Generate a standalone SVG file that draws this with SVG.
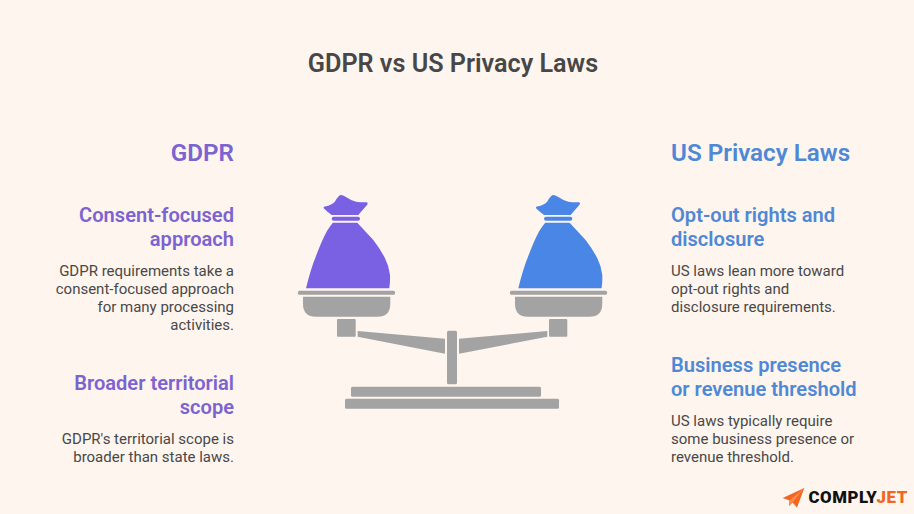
<svg xmlns="http://www.w3.org/2000/svg" width="914" height="514" viewBox="0 0 914 514">
<style>
text{font-family:Roboto,"Liberation Sans",sans-serif}
.t{font-size:25.200px;font-weight:600;fill:#474747;text-anchor:middle}
.hp{font-size:24.200px;font-weight:600;fill:#7b63d0}
.hb{font-size:24.200px;font-weight:600;fill:#4f88d4}
.sp{font-size:20.100px;font-weight:600;fill:#7b63d0}
.sb{font-size:20.100px;font-weight:600;fill:#4f88d4}
.d{font-size:15px;fill:#484848}
.r{text-anchor:end}
.g{fill:#a3a3a3}
</style>
<defs>
<g id="pan">
<rect class="g" x="298" y="290.700" width="97" height="4" rx="1.500"/>
<path class="g" d="M303 296.700H390.300V303.700Q390.300 316.700 377.300 316.700H316Q303 316.700 303 303.700Z"/>
</g>
<path id="knot" d="M340.500 195Q343 195 346 197Q351 200.500 356 201.700Q361 202.500 366.500 202.300Q368.500 202.800 367 205L358.300 215H331.700Q327 211.500 324 208.500Q322.800 207 325 206.500Q332 205 335 201.500Q338 196 340.500 195Z"/>
<path id="bag" d="M332.900 222.700H357.300Q366 232 373.300 240Q381 250 385 258.300Q389 266 390 275Q390.300 282 389.300 288.300H306Q311 268 316 256Q322 240 327 231Q330 226 332.900 222.700Z"/>
<rect id="band" x="331.700" y="216.700" width="28.300" height="4" rx="2"/>
</defs>
<rect width="914" height="514" fill="#fef5ee"/>
<text class="t" x="453" y="72">GDPR vs US Privacy Laws</text>
<g id="scale">
<use href="#pan"/>
<use href="#pan" x="212"/>
<rect class="g" x="337" y="319" width="18.700" height="17.700" rx="1"/>
<rect class="g" x="549" y="319" width="18.300" height="17.700" rx="1"/>
<path class="g" d="M357.700 331L445 338.700V353.700L357.700 336.700Z"/>
<path class="g" d="M547.300 331L459 338.700V353.700L547.300 336.700Z"/>
<rect class="g" x="447" y="330.700" width="10" height="53.600" rx="1.500"/>
<rect class="g" x="351" y="386.700" width="190" height="10" rx="1.500"/>
<rect class="g" x="345" y="398.700" width="214" height="10" rx="1.500"/>
</g>
<g id="bag-gdpr" fill="#7a60e3">
<use href="#knot"/><use href="#band"/><use href="#bag"/>
</g>
<g id="bag-us" fill="#4a86e5">
<use href="#knot" x="212.300"/><use href="#band" x="212.300"/><use href="#bag" x="212.300"/>
</g>
<g id="gdpr-column">
<text class="hp r" x="234" y="161">GDPR</text>
<text class="sp r" x="234" y="222">Consent-focused</text>
<text class="sp r" x="234" y="246">approach</text>
<text class="d r" x="234" y="276">GDPR requirements take a</text>
<text class="d r" x="234" y="294">consent-focused approach</text>
<text class="d r" x="234" y="312">for many processing</text>
<text class="d r" x="234" y="330">activities.</text>
<text class="sp r" x="234" y="390">Broader territorial</text>
<text class="sp r" x="234" y="414">scope</text>
<text class="d r" x="234" y="444">GDPR's territorial scope is</text>
<text class="d r" x="234" y="462">broader than state laws.</text>
</g>
<g id="us-column">
<text class="hb" x="671" y="161">US Privacy Laws</text>
<text class="sb" x="671" y="222">Opt-out rights and</text>
<text class="sb" x="671" y="246">disclosure</text>
<text class="d" x="671" y="276">US laws lean more toward</text>
<text class="d" x="671" y="294">opt-out rights and</text>
<text class="d" x="671" y="312">disclosure requirements.</text>
<text class="sb" x="671" y="372">Business presence</text>
<text class="sb" x="671" y="396">or revenue threshold</text>
<text class="d" x="671" y="426">US laws typically require</text>
<text class="d" x="671" y="444">some business presence or</text>
<text class="d" x="671" y="462">revenue threshold.</text>
</g>
<g id="logo">
<path d="M782.700 498L804.300 488L797 507.500L792.500 502.500L789 506L789.500 500.500Z" fill="#f26522"/>
<path d="M789.500 500.500L804.300 488L792.500 502.500L789 506Z" fill="#fb8a4a"/>
<text x="808.500" y="502.500" font-size="16.800" font-weight="900" letter-spacing=".55" fill="#111"><tspan>COMPLY</tspan><tspan fill="#f26522">JET</tspan></text>
</g>
</svg>
